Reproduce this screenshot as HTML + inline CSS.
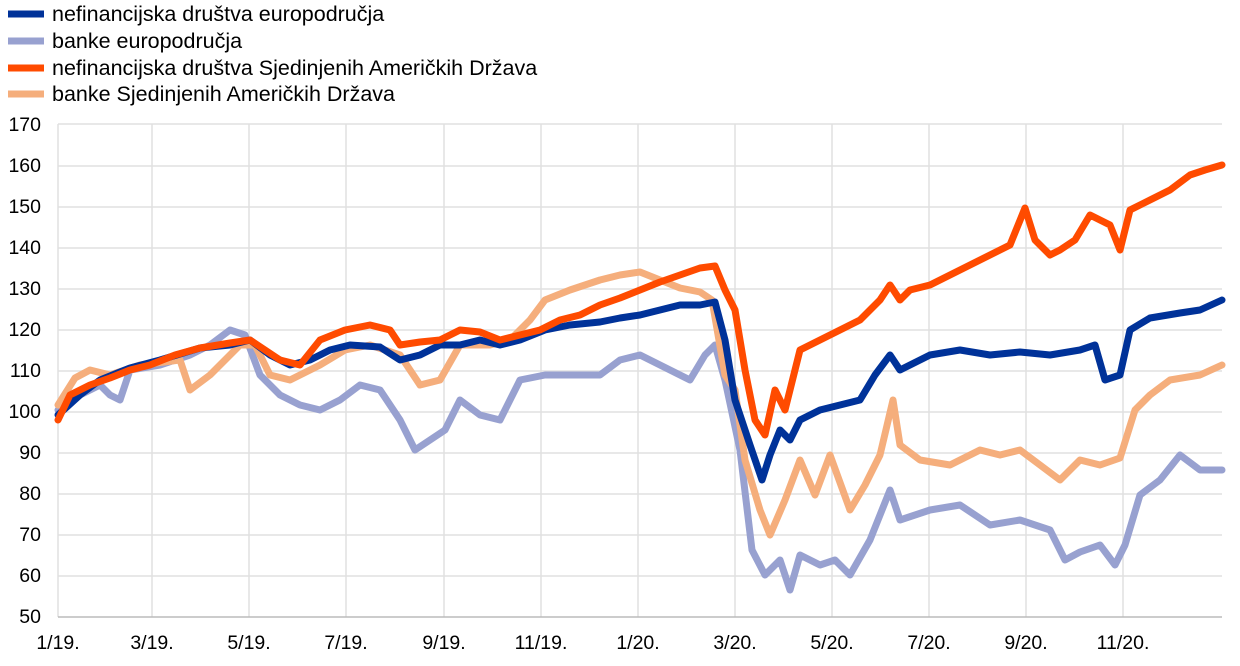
<!DOCTYPE html><html><head><style>body{margin:0;background:#fff}</style></head><body>
<svg width="1240" height="661" xmlns="http://www.w3.org/2000/svg" font-family="Liberation Sans, sans-serif">
<g stroke="#e0e0e0" stroke-width="1.5">
<line x1="58" y1="124" x2="1222" y2="124"/><line x1="58" y1="166" x2="1222" y2="166"/><line x1="58" y1="207" x2="1222" y2="207"/><line x1="58" y1="248" x2="1222" y2="248"/><line x1="58" y1="289" x2="1222" y2="289"/><line x1="58" y1="330" x2="1222" y2="330"/><line x1="58" y1="371" x2="1222" y2="371"/><line x1="58" y1="412" x2="1222" y2="412"/><line x1="58" y1="453" x2="1222" y2="453"/><line x1="58" y1="494" x2="1222" y2="494"/><line x1="58" y1="535" x2="1222" y2="535"/><line x1="58" y1="576" x2="1222" y2="576"/>
<line x1="58" y1="124" x2="58" y2="617"/><line x1="152" y1="124" x2="152" y2="617"/><line x1="249" y1="124" x2="249" y2="617"/><line x1="346" y1="124" x2="346" y2="617"/><line x1="444" y1="124" x2="444" y2="617"/><line x1="541" y1="124" x2="541" y2="617"/><line x1="638" y1="124" x2="638" y2="617"/><line x1="735" y1="124" x2="735" y2="617"/><line x1="832" y1="124" x2="832" y2="617"/><line x1="929" y1="124" x2="929" y2="617"/><line x1="1026" y1="124" x2="1026" y2="617"/><line x1="1123" y1="124" x2="1123" y2="617"/>
</g>
<line x1="58" y1="617" x2="1222" y2="617" stroke="#bbb" stroke-width="1.5"/>
<g font-size="19.5" fill="#000" text-anchor="end">
<text x="41" y="131">170</text><text x="41" y="172">160</text><text x="41" y="213">150</text><text x="41" y="254">140</text><text x="41" y="295">130</text><text x="41" y="336">120</text><text x="41" y="377">110</text><text x="41" y="418">100</text><text x="41" y="459">90</text><text x="41" y="500">80</text><text x="41" y="541">70</text><text x="41" y="582">60</text><text x="41" y="623">50</text>
</g>
<g font-size="19.5" fill="#000" text-anchor="middle">
<text x="58" y="649">1/19.</text><text x="152" y="649">3/19.</text><text x="249" y="649">5/19.</text><text x="346" y="649">7/19.</text><text x="444" y="649">9/19.</text><text x="541" y="649">11/19.</text><text x="638" y="649">1/20.</text><text x="735" y="649">3/20.</text><text x="832" y="649">5/20.</text><text x="929" y="649">7/20.</text><text x="1026" y="649">9/20.</text><text x="1123" y="649">11/20.</text>
</g>
<g fill="none" stroke-width="7" stroke-linejoin="round" stroke-linecap="round">
<polyline stroke="#98a1d0" points="58,410 80,395 100,385 110,395 120,400 130,370 160,365 190,355 210,345 230,330 245,335 260,375 280,395 300,405 320,410 340,400 360,385 380,390 400,420 415,450 430,440 445,430 460,400 480,415 500,420 520,380 545,375 570,375 600,375 620,360 640,355 660,365 690,380 705,355 715,345 725,380 740,450 752,550 765,575 780,560 790,590 800,555 820,565 835,560 850,575 870,540 890,490 900,520 930,510 960,505 990,525 1020,520 1050,530 1065,560 1080,552 1100,545 1115,565 1125,545 1140,495 1160,480 1180,455 1200,470 1222,470"/>
<polyline stroke="#f5ae7c" points="58,405 75,378 90,370 110,375 140,365 180,360 190,390 210,375 240,345 255,345 270,375 290,380 320,365 345,350 370,345 400,355 420,385 440,380 460,345 490,345 510,340 530,320 545,300 570,290 600,280 620,275 640,272 660,280 680,288 700,292 712,300 725,375 735,390 745,460 760,510 770,535 785,500 800,460 815,495 830,455 850,510 865,485 880,455 893,400 900,445 920,460 950,465 980,450 1000,455 1020,450 1040,465 1060,480 1080,460 1100,465 1120,458 1135,410 1150,395 1170,380 1200,375 1222,365"/>
<polyline stroke="#003299" points="58,415 80,395 100,380 130,368 160,360 200,348 230,345 250,340 270,355 290,365 310,360 330,350 350,345 380,347 400,360 420,355 440,345 460,345 480,340 500,345 520,340 545,330 570,325 600,322 620,318 640,315 660,310 680,305 700,305 715,302 725,340 735,400 750,445 762,480 770,455 780,430 790,440 800,420 820,410 840,405 860,400 875,375 890,355 900,370 930,355 960,350 990,355 1020,352 1050,355 1080,350 1095,345 1105,380 1120,375 1130,330 1150,318 1180,313 1200,310 1222,300"/>
<polyline stroke="#ff4b00" points="58,420 70,395 90,385 110,378 130,370 150,365 175,355 200,348 230,343 250,340 265,350 280,360 300,365 320,340 345,330 370,325 390,330 400,345 420,342 440,340 460,330 480,332 500,340 520,335 540,330 560,320 580,315 600,305 620,298 640,290 660,282 680,275 700,268 715,266 725,290 735,310 745,370 755,420 765,435 775,390 785,410 800,350 820,340 840,330 860,320 880,300 890,285 900,300 910,290 930,285 950,275 970,265 990,255 1010,245 1025,208 1035,240 1050,255 1060,250 1075,240 1090,215 1100,220 1110,225 1120,250 1130,210 1150,200 1170,190 1190,175 1205,170 1222,165"/>
</g>
<g stroke-width="7">
<line x1="8" y1="14" x2="44" y2="14" stroke="#003299"/>
<line x1="8" y1="41" x2="44" y2="41" stroke="#98a1d0"/>
<line x1="8" y1="68" x2="44" y2="68" stroke="#ff4b00"/>
<line x1="8" y1="94" x2="44" y2="94" stroke="#f5ae7c"/>
</g>
<g font-size="21.5" fill="#000">
<text x="52" y="21">nefinancijska društva europodručja</text>
<text x="52" y="48">banke europodručja</text>
<text x="52" y="75">nefinancijska društva Sjedinjenih Američkih Država</text>
<text x="52" y="101">banke Sjedinjenih Američkih Država</text>
</g>
</svg>
</body></html>
